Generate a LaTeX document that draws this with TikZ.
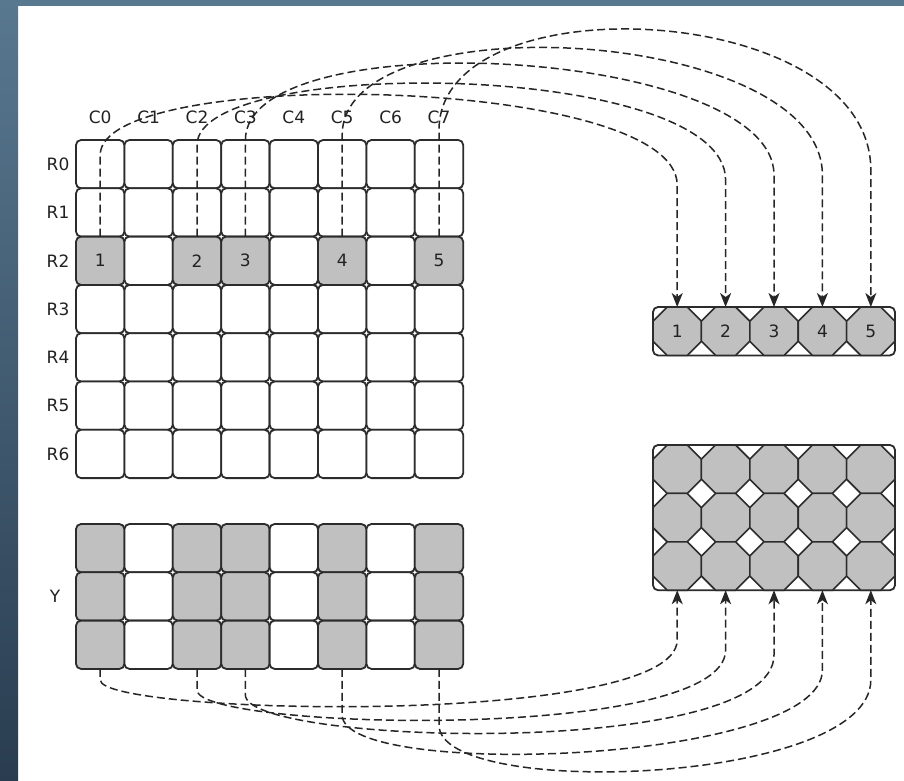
\documentclass[tikz,border=0pt]{standalone}
\usepackage{fontspec}
\setmainfont{DejaVu Sans}
\usetikzlibrary{arrows.meta,shapes.geometric}
\definecolor{cellgray}{HTML}{C0C0C0}
\definecolor{edgec}{HTML}{2C2C2C}
\definecolor{textc}{HTML}{222222}
\definecolor{bandtop}{HTML}{587890}
\definecolor{bandbot}{HTML}{2A3D50}
\begin{document}
\begin{tikzpicture}[x=1pt,y=-1pt,
  cell/.style={draw=edgec, line width=1.8pt, rounded corners=5pt, minimum width=48.4pt, minimum height=48.3pt, inner sep=0pt, outer sep=0pt, fill=white, text=textc, font=\fontsize{17}{20}\selectfont},
  octo/.style={regular polygon, regular polygon sides=8, minimum size=52.39pt, inner sep=0pt, outer sep=0pt, draw=edgec, line width=1.6pt, fill=cellgray, text=textc, font=\fontsize{17}{20}\selectfont},
  box/.style={draw=edgec, line width=1.8pt, rounded corners=5pt, fill=white, inner sep=0pt, outer sep=0pt},
  lab/.style={text=textc, inner sep=0pt, font=\fontsize{17}{20}\selectfont},
  conn/.style={draw=black!85, line width=1.5pt, dash pattern=on 8pt off 4pt, -{Stealth[length=14pt,width=11pt,inset=4pt]}}]
\useasboundingbox (0,0) rectangle (904,780);
\fill[white] (0,0) rectangle (904,780);
\shade[top color=bandtop, bottom color=bandbot] (0,0) rectangle (18,780);
\fill[bandtop] (0,0) rectangle (904,6);
% main grid
\foreach \i in {0,1,3,4,5,6}
  \foreach \j in {0,...,7}
    \node[cell] (m-\i-\j) at ({100.2+48.4*\j},{164.15+48.3*\i}) {};
\foreach \j/\f/\t in {0/cellgray/1,1/white/{},2/cellgray/2,3/cellgray/3,4/white/{},5/cellgray/4,6/white/{},7/cellgray/5}
  \node[cell,fill=\f] (m-2-\j) at ({100.2+48.4*\j},260.75) {\t};
% Y grid
\foreach \j/\f in {0/cellgray,1/white,2/cellgray,3/cellgray,4/white,5/cellgray,6/white,7/cellgray}
  \foreach \i in {0,1,2}
    \node[cell,fill=\f] (y-\i-\j) at ({100.2+48.4*\j},{548.15+48.3*\i}) {};
% labels
\foreach \j in {0,...,7}
  \node[lab] (cl\j) at ({100.2+48.4*\j},117) {C\j};
\foreach \i in {0,...,6}
  \node[lab] (rl\i) at (58,{164.15+48.3*\i}) {R\i};
\node[lab] (yl) at (55,596.45) {Y};
% small vector
\node[box, minimum width=242pt, minimum height=48.4pt] (vec) at (774,331.2) {};
\foreach \k in {1,...,5}
  \node[octo] (v\k) at ({677.2+48.4*(\k-1)},331.2) {\k};
% big matrix
\node[box, minimum width=242pt, minimum height=145.2pt] (mat) at (774,517.6) {};
\foreach \i in {1,2,3}
  \foreach \k in {1,...,5}
    \node[octo] (w-\i-\k) at ({677.2+48.4*(\k-1)},{469.2+48.4*(\i-1)}) {};
% top connectors
\draw[conn] (m-2-0.north) -- (100.2,155) .. controls (100.2,65) and (677.2,75) .. (677.2,185) -- (v1.north);
\draw[conn] (m-2-2.north) -- (197,145) .. controls (197,55) and (725.6,60) .. (725.6,180) -- (v2.north);
\draw[conn] (m-2-3.north) -- (245.4,140) .. controls (245.4,20) and (774,47) .. (774,175) -- (v3.north);
\draw[conn] (m-2-5.north) -- (342.2,135) .. controls (342.2,0) and (822.4,27) .. (822.4,175) -- (v4.north);
\draw[conn] (m-2-7.north) -- (439,130) .. controls (439,-20) and (870.8,0) .. (870.8,170) -- (v5.north);
% bottom connectors
\draw[conn] (y-2-0.south) -- (100.2,680) .. controls (100.2,715) and (677.2,728) .. (677.2,640) -- (w-3-1.south);
\draw[conn] (y-2-2.south) -- (197,690) .. controls (197,730) and (725.6,743) .. (725.6,650) -- (w-3-2.south);
\draw[conn] (y-2-3.south) -- (245.4,695) .. controls (245.4,745) and (774,760) .. (774,655) -- (w-3-3.south);
\draw[conn] (y-2-5.south) -- (342.2,715) .. controls (342.2,780) and (822.4,764) .. (822.4,670) -- (w-3-4.south);
\draw[conn] (y-2-7.south) -- (439,725) .. controls (439,800) and (870.8,785) .. (870.8,680) -- (w-3-5.south);
\end{tikzpicture}
\end{document}
